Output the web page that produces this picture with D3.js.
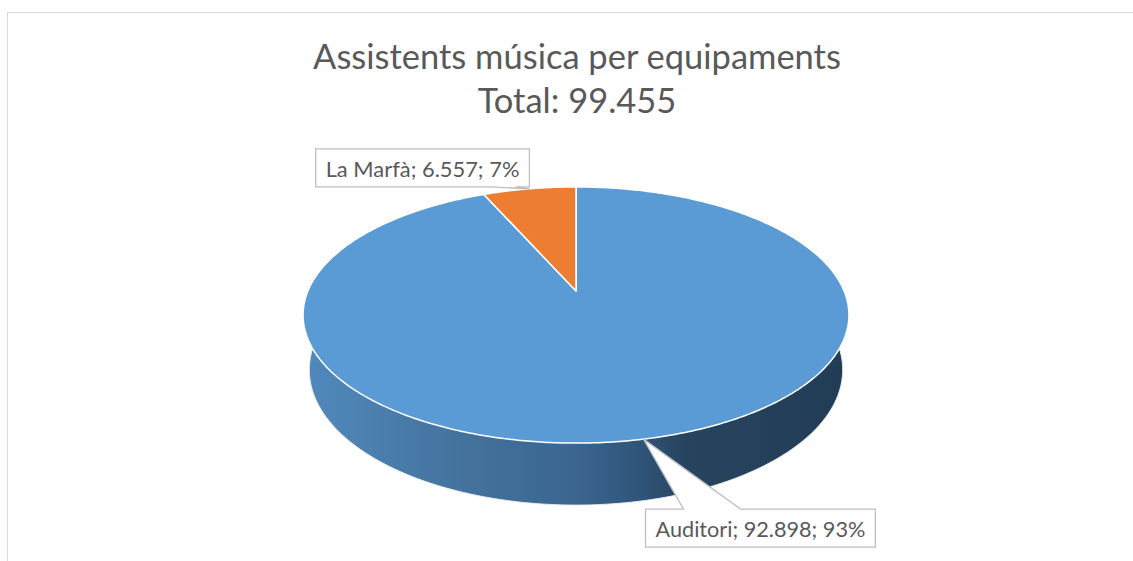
<!DOCTYPE html>
<html>
<head>
<meta charset="utf-8">
<script src="https://cdn.jsdelivr.net/npm/d3@7/dist/d3.min.js"></script>
<style>
  html, body { margin: 0; padding: 0; background: #fff; }
  svg { display: block; }
  text { font-family: Lato, "Open Sans", sans-serif; fill: #595959; }
</style>
</head>
<body>
<div id="chart"></div>
<script>
// chart data
const categories = ['Auditori', 'La Marfà'];
const seriesValues = [92898, 6557];
const percentLabels = ['93%', '7%'];
const titleLines = ['Assistents música per equipaments', 'Total: 99.455'];
const sliceColors = ['#5b9bd5', '#ed7d31'];

const width = 1133, height = 561;

// perspective settings for the 3D pie (tuned by eye)
const view = { cx: 576, cy: 291, focal: 1268, dist: 4.73, tilt: Math.asin(0.461), depth: 0.232 };
const sinT = Math.sin(view.tilt), cosT = Math.cos(view.tilt);

// angle phi: clockwise from 12 o'clock, y: height (0 top face, -depth bottom), r: 0..1
function project(phi, y, r = 1) {
  const X = r * Math.sin(phi), Z = -r * Math.cos(phi);
  const v = Z * sinT - y * cosT;
  const w = view.dist - Z * cosT - y * sinT;
  return [view.cx + view.focal * X / w, view.cy + view.focal * v / w];
}

function arcPoints(a0, a1, y) {
  const n = Math.max(2, Math.ceil(Math.abs(a1 - a0) / 0.01));
  return d3.range(n + 1).map(i => project(a0 + (a1 - a0) * i / n, y));
}

const svg = d3.select('#chart').append('svg')
  .attr('width', width)
  .attr('height', height);

// chart area border
svg.append('rect')
  .attr('x', 7.5).attr('y', 12.5)
  .attr('width', 1140).attr('height', 560)
  .attr('fill', '#fff')
  .attr('stroke', '#d9d9d9')
  .attr('stroke-width', 1);

// title
const title = svg.append('g');
titleLines.forEach((line, i) => {
  title.append('text')
    .attr('x', 577)
    .attr('y', 69 + i * 44)
    .attr('text-anchor', 'middle')
    .style('font-size', '30px')
    .text(line);
});
// fit title width to the reference layout
const firstTitle = title.select('text').node();
const fitScale = 528 / firstTitle.getComputedTextLength();
title.selectAll('text').style('font-size', (30 * fitScale) + 'px');

const pie = d3.pie().sort(null).value(d => d.value);
const arcs = pie(categories.map((c, i) => ({ name: c, value: seriesValues[i], pct: percentLabels[i], color: sliceColors[i] })));

// side wall gradient
const defs = svg.append('defs');
const grad = defs.append('linearGradient')
  .attr('id', 'wallGrad')
  .attr('gradientUnits', 'userSpaceOnUse')
  .attr('x1', 304).attr('y1', 0).attr('x2', 848).attr('y2', 0);
[[0, '#5189bd'], [0.28, '#44739e'], [0.5, '#3a6690'], [0.62, '#2f5479'], [0.7, '#27445f'], [1, '#223c55']]
  .forEach(([o, c]) => grad.append('stop').attr('offset', o).attr('stop-color', c));

const line = d3.line();
const front0 = Math.PI / 2, front1 = 3 * Math.PI / 2;

// walls: only the parts of each slice on the front half
arcs.forEach(a => {
  const s = Math.max(a.startAngle, front0), e = Math.min(a.endAngle, front1);
  if (e <= s) return;
  const top = arcPoints(s, e, 0);
  const bottom = arcPoints(e, s, -view.depth);
  svg.append('path')
    .attr('d', line(top.concat(bottom)) + 'Z')
    .attr('fill', 'url(#wallGrad)')
    .attr('stroke', 'none');
  svg.append('path')
    .attr('d', line(arcPoints(s, e, -view.depth)))
    .attr('fill', 'none')
    .attr('stroke', '#e8ecf0')
    .attr('stroke-width', 1);
});

// top faces
arcs.forEach(a => {
  const pts = [project(0, 0, 0)].concat(arcPoints(a.startAngle, a.endAngle, 0));
  svg.append('path')
    .attr('d', line(pts) + 'Z')
    .attr('fill', a.data.color)
    .attr('stroke', '#ffffff')
    .attr('stroke-width', 1.5)
    .attr('stroke-linejoin', 'round');
});

// data callouts
const calloutLayout = [
  { dx: 2, dy: 70, wedge: 'top', w0: 38, w1: 95, textWidth: 210 },
  { dx: 0, dy: -2, wedge: 'bottom', w0: 40, w1: 14, anchorRight: true, textWidth: 194 }
];

arcs.forEach((a, i) => {
  const mid = (a.startAngle + a.endAngle) / 2;
  const tip = project(mid, 0);
  const lay = calloutLayout[i];
  const g = svg.append('g');
  const label = g.append('text')
    .style('font-size', '18px')
    .text(`${a.data.name}; ${d3.format(',')(a.data.value).replace(/,/g, '.')}; ${a.data.pct}`);
  // fit label width to the reference
  label.style('font-size', (18 * lay.textWidth / label.node().getComputedTextLength()) + 'px');
  const tw = label.node().getComputedTextLength();
  const bw = tw + 20, bh = 38;
  let x0, y0;
  if (lay.anchorRight) { x0 = tip[0] - bw; y0 = tip[1] + lay.dy - bh; }
  else { x0 = tip[0] + lay.dx; y0 = tip[1] + lay.dy; }
  const x1 = x0 + bw, y1 = y0 + bh;
  let pts;
  if (lay.wedge === 'top') {
    pts = [[x0, y0], [x0 + lay.w0, y0], tip, [x0 + lay.w1, y0], [x1, y0], [x1, y1], [x0, y1]];
  } else {
    pts = [[x0, y0], [x1, y0], [x1, y1], [x1 - lay.w1, y1], tip, [x1 - lay.w0, y1], [x0, y1]];
  }
  g.insert('path', 'text')
    .attr('d', line(pts) + 'Z')
    .attr('fill', '#ffffff')
    .attr('stroke', '#bfbfbf')
    .attr('stroke-width', 1.3);
  label.attr('x', (x0 + x1) / 2)
    .attr('y', y1 - 10)
    .attr('text-anchor', 'middle');
});
</script>
</body>
</html>
